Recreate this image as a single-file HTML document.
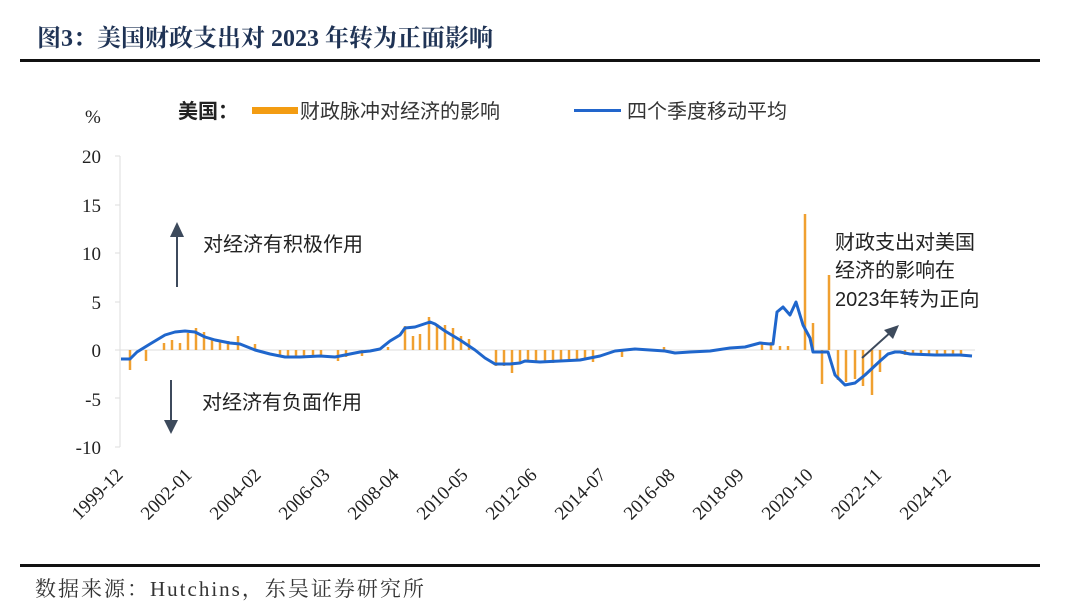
<!DOCTYPE html>
<html><head><meta charset="utf-8"><style>
html,body{margin:0;padding:0;background:#fff;width:1080px;height:610px;overflow:hidden}
svg{display:block}
.s{font-family:"Liberation Sans","Noto Sans CJK SC",sans-serif}
.r{font-family:"Liberation Serif","Noto Serif CJK SC",serif}
</style></head><body>
<svg width="1080" height="610" viewBox="0 0 1080 610">
<text x="37" y="46" class="r" font-size="24" font-weight="bold" fill="#1f3355">图3：美国财政支出对 2023 年转为正面影响</text>
<rect x="20" y="59" width="1020" height="3" fill="#111"/>
<text x="85" y="123" class="r" font-size="19" fill="#222">%</text>
<text x="178" y="118" class="s" font-size="20" font-weight="bold" fill="#222">美国：</text>
<rect x="252" y="107" width="46" height="7" fill="#f39c12"/>
<text x="300" y="118" class="s" font-size="20" fill="#333">财政脉冲对经济的影响</text>
<rect x="574" y="109" width="47" height="3" fill="#2266cc"/>
<text x="627" y="118" class="s" font-size="20" fill="#333">四个季度移动平均</text>
<g class="r" font-size="19" fill="#222" text-anchor="end">
<text x="101" y="163">20</text><text x="101" y="212">15</text><text x="101" y="260">10</text>
<text x="101" y="309">5</text><text x="101" y="357">0</text><text x="101" y="406">-5</text><text x="101" y="454">-10</text>
</g>
<g stroke="#ddd" stroke-width="1">
<line x1="120" y1="156" x2="120" y2="447"/>
<line x1="115" y1="156" x2="120" y2="156"/><line x1="115" y1="205" x2="120" y2="205"/><line x1="115" y1="253" x2="120" y2="253"/><line x1="115" y1="302" x2="120" y2="302"/><line x1="115" y1="350" x2="120" y2="350"/><line x1="115" y1="398" x2="120" y2="398"/><line x1="115" y1="447" x2="120" y2="447"/>
<line x1="120" y1="350" x2="975" y2="350"/>
</g>
<g stroke="#f0a030" stroke-width="2.5">
<line x1="130" y1="350" x2="130" y2="370"/><line x1="146" y1="350" x2="146" y2="361"/>
<line x1="164" y1="350" x2="164" y2="343"/><line x1="172" y1="350" x2="172" y2="340"/><line x1="180" y1="350" x2="180" y2="343"/><line x1="188" y1="350" x2="188" y2="333"/><line x1="196" y1="350" x2="196" y2="328"/><line x1="204" y1="350" x2="204" y2="332"/><line x1="212" y1="350" x2="212" y2="339"/><line x1="220" y1="350" x2="220" y2="340"/><line x1="228" y1="350" x2="228" y2="341"/><line x1="238" y1="350" x2="238" y2="336"/><line x1="255" y1="350" x2="255" y2="344"/>
<line x1="280" y1="350" x2="280" y2="355"/><line x1="288" y1="350" x2="288" y2="356"/><line x1="296" y1="350" x2="296" y2="356"/><line x1="304" y1="350" x2="304" y2="356"/><line x1="313" y1="350" x2="313" y2="356"/><line x1="321" y1="350" x2="321" y2="356"/><line x1="338" y1="350" x2="338" y2="361"/><line x1="346" y1="350" x2="346" y2="357"/><line x1="362" y1="350" x2="362" y2="356"/>
<line x1="388" y1="350" x2="388" y2="347"/><line x1="405" y1="350" x2="405" y2="326"/><line x1="413" y1="350" x2="413" y2="336"/><line x1="420" y1="350" x2="420" y2="334"/><line x1="429" y1="350" x2="429" y2="317"/><line x1="437" y1="350" x2="437" y2="324"/><line x1="445" y1="350" x2="445" y2="325"/><line x1="453" y1="350" x2="453" y2="328"/><line x1="461" y1="350" x2="461" y2="336"/><line x1="469" y1="350" x2="469" y2="339"/>
<line x1="496" y1="350" x2="496" y2="366"/><line x1="504" y1="350" x2="504" y2="366"/><line x1="512" y1="350" x2="512" y2="373"/><line x1="520" y1="350" x2="520" y2="363"/><line x1="528" y1="350" x2="528" y2="362"/><line x1="536" y1="350" x2="536" y2="362"/><line x1="545" y1="350" x2="545" y2="362"/><line x1="553" y1="350" x2="553" y2="363"/><line x1="561" y1="350" x2="561" y2="362"/><line x1="569" y1="350" x2="569" y2="362"/><line x1="577" y1="350" x2="577" y2="361"/><line x1="585" y1="350" x2="585" y2="360"/><line x1="593" y1="350" x2="593" y2="362"/><line x1="622" y1="350" x2="622" y2="357"/><line x1="664" y1="350" x2="664" y2="347"/>
<line x1="762" y1="350" x2="762" y2="344"/><line x1="771" y1="350" x2="771" y2="342"/><line x1="780" y1="350" x2="780" y2="346"/><line x1="788" y1="350" x2="788" y2="346"/><line x1="805" y1="350" x2="805" y2="214"/><line x1="813" y1="350" x2="813" y2="323"/><line x1="822" y1="350" x2="822" y2="384"/><line x1="829" y1="350" x2="829" y2="275"/>
<line x1="838" y1="350" x2="838" y2="380"/><line x1="846" y1="350" x2="846" y2="382"/><line x1="855" y1="350" x2="855" y2="379"/><line x1="863" y1="350" x2="863" y2="386"/><line x1="872" y1="350" x2="872" y2="395"/><line x1="880" y1="350" x2="880" y2="372"/>
<line x1="905" y1="350" x2="905" y2="355"/><line x1="913" y1="350" x2="913" y2="355"/><line x1="921" y1="350" x2="921" y2="355"/><line x1="929" y1="350" x2="929" y2="355"/><line x1="937" y1="350" x2="937" y2="355"/><line x1="945" y1="350" x2="945" y2="355"/><line x1="953" y1="350" x2="953" y2="355"/><line x1="961" y1="350" x2="961" y2="355"/>
</g>
<polyline fill="none" stroke="#1f66cc" stroke-width="3" stroke-linejoin="round" points="121,359 130,359 137,352 150,344 165,335 175,332 185,331 195,332 205,337 215,340 230,343 240,344 255,350 270,354 285,357 300,357 320,356 335,357 345,355 360,352 370,351 380,349 390,341 400,335 405,328 415,327 430,322 435,324 445,331 460,340 475,350 485,358 495,364 510,364 520,363 525,361 540,362 560,361 580,360 600,356 615,351 635,349 650,350 665,351 675,353 690,352 710,351 730,348 745,347 760,343 770,344 773,344 777,312 783,307 790,315 796,302 803,325 810,338 813,352 828,352 835,375 845,385 855,383 865,375 880,361 888,354 895,352 900,352 910,354 935,355 960,355 972,356"/>
<g fill="#3d4a5c" stroke="#3d4a5c">
<line x1="177" y1="287" x2="177" y2="235" stroke-width="2"/><polygon points="170,237 184,237 177,222" stroke="none"/>
<line x1="171" y1="380" x2="171" y2="422" stroke-width="2"/><polygon points="164,420 178,420 171,434" stroke="none"/>
<line x1="862" y1="358" x2="892" y2="331" stroke-width="2"/><polygon points="899,325 884,330 893,339" stroke="none"/>
</g>
<g class="s" font-size="20" fill="#222">
<text x="203" y="251">对经济有积极作用</text>
<text x="202" y="409">对经济有负面作用</text>
<text x="835" y="249">财政支出对美国</text>
<text x="835" y="277">经济的影响在</text>
<text x="835" y="306">2023年转为正向</text>
</g>
<g class="r" font-size="19" fill="#222" text-anchor="end">
<text transform="translate(124,476) rotate(-45)">1999-12</text>
<text transform="translate(193,476) rotate(-45)">2002-01</text>
<text transform="translate(262,476) rotate(-45)">2004-02</text>
<text transform="translate(331,476) rotate(-45)">2006-03</text>
<text transform="translate(400,476) rotate(-45)">2008-04</text>
<text transform="translate(469,476) rotate(-45)">2010-05</text>
<text transform="translate(538,476) rotate(-45)">2012-06</text>
<text transform="translate(607,476) rotate(-45)">2014-07</text>
<text transform="translate(676,476) rotate(-45)">2016-08</text>
<text transform="translate(745,476) rotate(-45)">2018-09</text>
<text transform="translate(814,476) rotate(-45)">2020-10</text>
<text transform="translate(883,476) rotate(-45)">2022-11</text>
<text transform="translate(952,476) rotate(-45)">2024-12</text>
</g>
<rect x="20" y="564" width="1020" height="3" fill="#111"/>
<text x="35" y="596" class="r" font-size="21" letter-spacing="2" fill="#333">数据来源：Hutchins，东吴证券研究所</text>
</svg>
</body></html>
